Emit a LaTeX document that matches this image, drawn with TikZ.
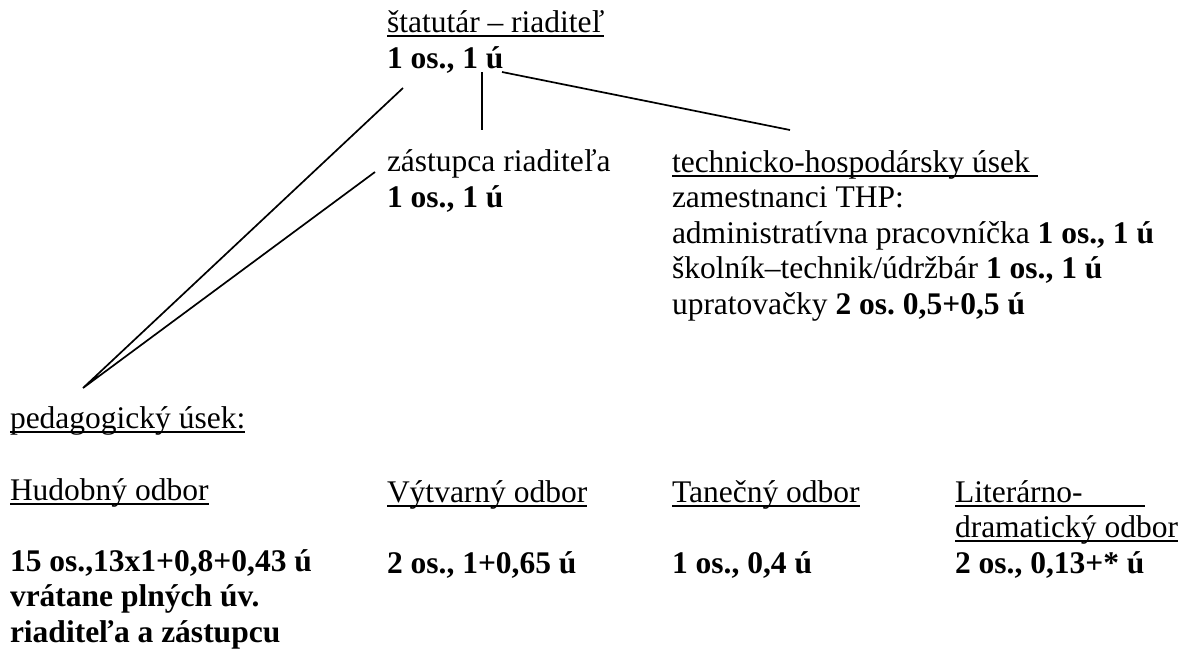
\documentclass[tikz,border=0pt]{standalone}
\usepackage{fontspec}
\setmainfont{Liberation Serif}
\usepackage{tikz}
\usetikzlibrary{positioning, calc}
\frenchspacing

\newcommand{\ulin}[2][0pt]{\setbox0\hbox{#2}\rlap{\rule[-4.5pt]{\dimexpr\wd0+#1\relax}{1.8pt}}\box0}

\begin{document}
\begin{tikzpicture}[x=1pt, y=-1pt,
    entry/.style={anchor=base west, inner sep=0pt, outer sep=0pt, align=left,
      font=\fontsize{31.5}{35.5}\selectfont},
    link/.style={line width=1.7pt, black}]

    \useasboundingbox (0,0) rectangle (1185,649);

    % top of the hierarchy (nodes sit on the baseline of their last line)
    \node (dir) [entry] at (387,68) {\ulin{štatutár – riaditeľ}\\\textbf{1 os., 1 ú}};

    % second level
    \node (zast) [entry] at (387,207) {zástupca riaditeľa\\\textbf{1 os., 1 ú}};
    \node (thp) [entry] at (672,314) {\ulin{technicko-hospodársky úsek\ }\\
      zamestnanci THP:\\
      administratívna pracovníčka \textbf{1 os., 1 ú}\\
      školník–technik/údržbár \textbf{1 os., 1 ú}\\
      upratovačky \textbf{2 os. 0,5+0,5 ú}};

    \node (ped) [entry] at (10,428) {\ulin{pedagogický úsek:}};

    % departments
    \node (hud) [entry] at (10,642) {\ulin{Hudobný odbor}\\[35.5pt]
      \textbf{15 os.,13x1+0,8+0,43 ú}\\\textbf{vrátane plných úv.}\\\textbf{riaditeľa a zástupcu}};
    \node (vyt) [entry] at (387,573) {\ulin{Výtvarný odbor}\\[35.5pt]\textbf{2 os., 1+0,65 ú}};
    \node (tan) [entry] at (672,573) {\ulin{Tanečný odbor}\\[35.5pt]\textbf{1 os., 0,4 ú}};
    \node (lit) [entry] at (955,573) {\ulin[62pt]{Literárno-}\\\ulin{dramatický odbor}\\\textbf{2 os., 0,13+* ú}};

    % line ends
    \coordinate (dirL) at (403,88);
    \coordinate (dirM) at (482,72);
    \coordinate (dirR) at (502,72);
    \coordinate (zastT) at (482,130);
    \coordinate (zastL) at (375,172);
    \coordinate (thpT) at (790,130);
    \coordinate (pedT) at (83,388);

    \draw [link] (dirL) -- (pedT) -- (zastL);
    \draw [link] (dirM) -- (zastT);
    \draw [link] (dirR) -- (thpT);
\end{tikzpicture}
\end{document}
